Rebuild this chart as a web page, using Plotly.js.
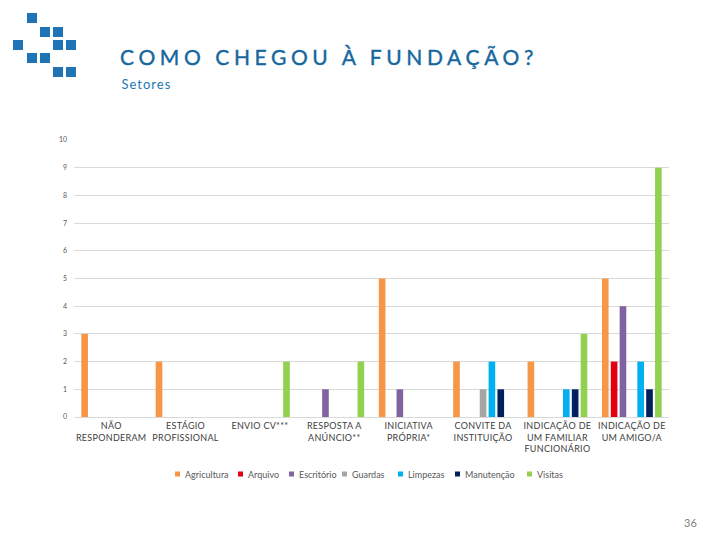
<!DOCTYPE html>
<html>
<head>
<meta charset="utf-8">
<script src="https://cdn.plot.ly/plotly-3.0.1.min.js"></script>
<style>
html,body{margin:0;padding:0;background:#fff;}
#chart{width:720px;height:540px;}
</style>
</head>
<body>
<div id="chart"></div>
<script>
const categories = [
  "NÃO<br>RESPONDERAM",
  "ESTÁGIO<br>PROFISSIONAL",
  "ENVIO CV***",
  "RESPOSTA A<br>ANÚNCIO**",
  "INICIATIVA<br>PRÓPRIA*",
  "CONVITE DA<br>INSTITUIÇÃO",
  "INDICAÇÃO DE<br>UM FAMILIAR<br>FUNCIONÁRIO",
  "INDICAÇÃO DE<br>UM AMIGO/A"
];
const agricultura = [3, 2, 0, 0, 5, 2, 2, 5];
const arquivo     = [0, 0, 0, 0, 0, 0, 0, 2];
const escritorio  = [0, 0, 0, 1, 1, 0, 0, 4];
const guardas     = [0, 0, 0, 0, 0, 1, 0, 0];
const limpezas    = [0, 0, 0, 0, 0, 2, 1, 2];
const manutencao  = [0, 0, 0, 0, 0, 1, 1, 1];
const visitas     = [0, 0, 2, 2, 0, 0, 3, 9];
const seriesNames = ["Agricultura", "Arquivo", "Escritório", "Guardas", "Limpezas", "Manutenção", "Visitas"];
const yTicks = [0,1,2,3,4,5,6,7,8,9,10];

const colors = ["#F79646", "#E3000F", "#8064A2", "#A5A5A5", "#00B0F0", "#002060", "#92D050"];
const seriesValues = [agricultura, arquivo, escritorio, guardas, limpezas, manutencao, visitas];

const traces = seriesNames.map((n, i) => ({
  type: "bar",
  name: n,
  x: categories,
  y: seriesValues[i],
  marker: {color: colors[i]},
  hoverinfo: "skip",
  showlegend: false
}));

// plot area geometry (pixels) used to convert page positions to paper coords
const PL = 74, PW = 595, PB = 417, PH = 277;
const px = x => (x - PL) / PW;
const py = y => (PB - y) / PH;

const blue = "#1F74B6";
const titleBlue = "#16679E";
const logo = [[27,13],[40,27],[53,27],[13,40],[53,40],[66,40],[27,53],[40,53],[53,67],[66,67]];
const shapes = logo.map(p => ({
  type: "rect", xref: "paper", yref: "paper",
  x0: px(p[0]), x1: px(p[0] + 10),
  y0: py(p[1]), y1: py(p[1] + 10),
  fillcolor: blue, line: {width: 0}
}));

// custom compact legend (symbol left edges, in page pixels)
const legendX = [175, 238, 289, 342, 398, 455, 527];
const legendY = 474;
seriesNames.forEach((n, i) => {
  shapes.push({type: "rect", xref: "paper", yref: "paper",
    x0: px(legendX[i]), x1: px(legendX[i] + 5),
    y0: py(legendY - 2.5), y1: py(legendY + 2.5),
    fillcolor: colors[i], line: {width: 0}});
});

const annotations = [
  {text: "COMO CHEGOU À FUNDAÇÃO?", xref: "paper", yref: "paper", x: px(329), y: py(57),
   xanchor: "center", yanchor: "middle", showarrow: false,
   font: {size: 21, color: titleBlue, family: "Lato, 'Open Sans', sans-serif"}},
  {text: "Setores", xref: "paper", yref: "paper", x: px(146), y: py(84),
   xanchor: "center", yanchor: "middle", showarrow: false, font: {size: 13, color: "#2477B0"}},
  {text: "36", xref: "paper", yref: "paper", x: px(699), y: py(522),
   xanchor: "right", yanchor: "middle", showarrow: false, font: {size: 11, color: "#7F7F7F"}}
];
seriesNames.forEach((n, i) => {
  annotations.push({text: n, xref: "paper", yref: "paper", x: px(legendX[i] + 8), y: py(legendY),
    xanchor: "left", yanchor: "middle", showarrow: false, font: {size: 9, color: "#595959"}});
});

const layout = {
  width: 720, height: 540,
  margin: {l: 74, r: 51, t: 140, b: 123},
  paper_bgcolor: "#fff", plot_bgcolor: "#fff",
  font: {family: "Lato, 'Open Sans', sans-serif", color: "#595959"},
  barmode: "group",
  bargap: 0.167,
  bargroupgap: 0.25,
  showlegend: false,
  xaxis: {type: "category", tickfont: {size: 9, color: "#404040"}, showgrid: false,
          showline: true, linecolor: "#D9D9D9", ticks: "", automargin: false},
  yaxis: {range: [0, 10], tickvals: yTicks, ticktext: yTicks.map(String), tickfont: {size: 7, color: "#595959"},
          showgrid: true, gridcolor: "#D9D9D9", zeroline: false, ticks: "", ticklabelstandoff: 6, automargin: false,
          fixedrange: true},
  shapes: shapes,
  annotations: annotations
};

Plotly.newPlot("chart", traces, layout, {displayModeBar: false, staticPlot: true}).then(() => {
  const t = document.querySelectorAll(".annotation-text");
  if (t[0]) { t[0].style.letterSpacing = "4.6px"; t[0].style.stroke = titleBlue; t[0].style.strokeWidth = "0.4px"; }
  if (t[1]) t[1].style.letterSpacing = "1px";
  document.querySelectorAll(".xtick text").forEach(e => e.style.letterSpacing = "0.3px");
});
</script>
</body>
</html>
